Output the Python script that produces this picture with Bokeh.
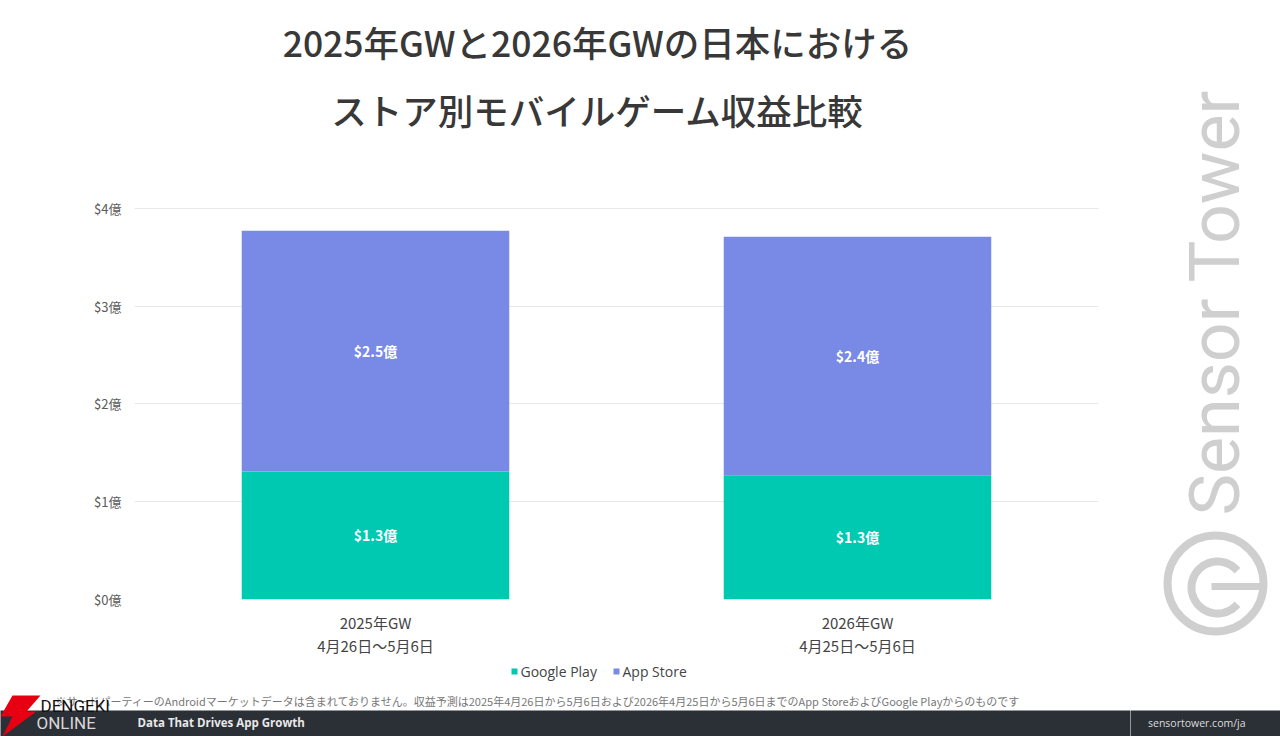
import math
from bokeh.plotting import figure
from bokeh.layouts import row, column
from bokeh.models import (Range1d, LinearAxis, FixedTicker, PrintfTickFormatter,
                          ColumnDataSource)
from bokeh.embed import file_html
from bokeh.resources import INLINE
from bokeh.core.properties import value

# ---------------- data ----------------
title_lines = ["2025年GWと2026年GWの日本における", "ストア別モバイルゲーム収益比較"]
categories = ["2025年GW", "2026年GW"]
date_ranges = ["4月26日～5月6日", "4月25日～5月6日"]
series_names = ["Google Play", "App Store"]
google_play = [1.31, 1.27]   # 億ドル
app_store = [2.46, 2.44]     # 億ドル
y_ticks = [0, 1, 2, 3, 4]
footnote = ("※サードパーティーのAndroidマーケットデータは含まれておりません。収益予測は2025年4月26日から5月6日"
            "および2026年4月25日から5月6日までのApp StoreおよびGoogle Playからのものです")
tagline = "Data That Drives App Growth"
site = "sensortower.com/ja"
watermark = "Sensor Tower"
brand_top = "DENGEKI"
brand_bottom = "ONLINE"

# ---------------- styles ----------------
GP_COLOR = "#00c9b1"
AS_COLOR = "#7889e6"
SERIES_COLORS = [GP_COLOR, AS_COLOR]
JP = "Noto Sans CJK JP"
JP_MED = "Noto Sans CJK JP Medium, Noto Sans CJK JP"
WM = "#cfcfcf"
FOOT_BG = "#2b2f36"

LEFT_W = 1130
SIDE_W = 150
PAGE_H = 736
TITLE_H = 150
MAIN_H = 510
BOTTOM_H = PAGE_H - TITLE_H - MAIN_H
Y_MAX = 4.1
N = len(categories)


def canvas(w, h, x0, y0):
    """A figure whose frame is the whole canvas, in page pixel coordinates."""
    f = figure(width=w, height=h, x_range=Range1d(x0, x0 + w),
               y_range=Range1d(y0 + h, y0), x_axis_type=None, y_axis_type=None,
               min_border=0, toolbar_location=None, output_backend="svg",
               outline_line_color=None, background_fill_color="white",
               border_fill_color="white", frame_align=False)
    return f


# ---------------- title ----------------
tf = canvas(LEFT_W, TITLE_H, 0, 0)
tf.text(x=[597, 597], y=[41, 109], text=title_lines, text_align="center",
        text_baseline="middle", text_font=value(JP_MED), text_font_size="35.5px",
        text_color="#383838")

# ---------------- main chart ----------------
x_pos = [i + 0.5 for i in range(N)]
p = figure(width=LEFT_W, height=MAIN_H, x_range=Range1d(0, N),
           y_range=Range1d(0, Y_MAX), output_backend="svg", toolbar_location=None,
           min_border_left=134, min_border_right=32, min_border_top=48,
           min_border_bottom=61, background_fill_color="white",
           border_fill_color="white", frame_align=False)
p.outline_line_color = None
p.xgrid.grid_line_color = None
p.ygrid.grid_line_color = "#e8e8e8"
p.ygrid.ticker = FixedTicker(ticks=y_ticks)

src = ColumnDataSource(dict(x=x_pos, gp=google_play, ast=app_store))
rs = p.vbar_stack(["gp", "ast"], x="x", width=0.555, color=SERIES_COLORS,
                  source=src, line_width=0)

lab_x = x_pos + x_pos
lab_y = [g / 2 for g in google_play] + [g + a / 2 for g, a in zip(google_play, app_store)]
lab_t = [f"${v:.1f}億" for v in google_play + app_store]
p.text(x=lab_x, y=lab_y, text=lab_t, text_align="center", text_baseline="middle",
       text_color="white", text_font=value(JP), text_font_style="bold",
       text_font_size="14px")

yax = p.yaxis[0]
yax.ticker = FixedTicker(ticks=y_ticks)
yax.formatter = PrintfTickFormatter(format="$%d億")
yax.axis_line_color = None
yax.major_tick_line_color = None
yax.minor_tick_line_color = None
yax.major_tick_out = 0
yax.major_tick_in = 0
yax.major_label_text_font = JP
yax.major_label_text_font_size = "13px"
yax.major_label_text_color = "#5a5a5a"
yax.major_label_standoff = 13


def style_x(ax, standoff):
    ax.ticker = FixedTicker(ticks=x_pos)
    ax.axis_line_color = None
    ax.major_tick_line_color = None
    ax.minor_tick_line_color = None
    ax.major_tick_out = 0
    ax.major_tick_in = 0
    ax.major_label_text_font = JP
    ax.major_label_text_font_size = "15px"
    ax.major_label_text_color = "#444444"
    ax.major_label_standoff = standoff


xax = p.xaxis[0]
style_x(xax, 12)
xax.major_label_overrides = dict(zip(x_pos, categories))

xax2 = LinearAxis()
style_x(xax2, -1)
xax2.major_label_overrides = dict(zip(x_pos, date_ranges))
p.add_layout(xax2, "below")

# ---------------- bottom strip: legend, footnote, footer ----------------
bf = canvas(LEFT_W, BOTTOM_H, 0, TITLE_H + MAIN_H)
leg_x = [511, 613]
bf.scatter(x=[x + 3 for x in leg_x], y=[671, 671], marker="square", size=6,
           color=SERIES_COLORS, line_width=0)
bf.text(x=[x + 9 for x in leg_x], y=[671, 671], text=series_names, text_align="left",
        text_baseline="middle", text_font=value("Open Sans"), text_font_size="14px",
        text_color="#444444")
bf.text(x=[55], y=[700], text=[footnote], text_align="left", text_baseline="middle",
        text_font=value(JP), text_font_size="11px", text_color="#777777")
bf.quad(left=[-5], right=[LEFT_W + 5], top=[710], bottom=[PAGE_H + 5], color=FOOT_BG,
        line_width=0)
bf.text(x=[137], y=[722], text=[tagline], text_align="left", text_baseline="middle",
        text_font=value("Open Sans"), text_font_size="11.5px", text_font_style="bold",
        text_color="#e8e8e8")
bolt_x = [12, 40, 26, 36, 2, 12, 0]
bolt_y = [695, 695, 711, 711, 736, 716, 716]
bf.patch(x=bolt_x, y=bolt_y, color="#e60012", line_width=0)
bf.text(x=[40], y=[705], text=[brand_top], text_align="left", text_baseline="middle",
        text_font=value("Roboto"), text_font_size="17px", text_color="#111111")
bf.text(x=[36], y=[722], text=[brand_bottom], text_align="left", text_baseline="middle",
        text_font=value("Roboto"), text_font_size="17px", text_color="#d8d8d8")

# ---------------- right strip: watermark ----------------
sf = canvas(SIDE_W, PAGE_H, LEFT_W, 0)
sf.text(x=[1214], y=[302], text=[watermark], angle=math.pi / 2, text_align="center",
        text_baseline="middle", text_font=value("Roboto"), text_font_size="70px",
        text_color=WM)
sf.circle(x=[1215], y=[583], radius=48, fill_alpha=0, line_color=WM, line_width=8)
c_ang = [math.radians(a) for a in range(40, 321, 5)]
sf.line(x=[1217 + 26 * math.cos(a) for a in c_ang],
        y=[587 - 26 * math.sin(a) for a in c_ang], line_color=WM, line_width=8)
sf.line(x=[1211, 1263], y=[586, 586], line_color=WM, line_width=7)
sf.quad(left=[LEFT_W - 5], right=[LEFT_W + SIDE_W + 5], top=[710], bottom=[PAGE_H + 5],
        color=FOOT_BG, line_width=0)
sf.text(x=[1245], y=[722], text=[site], text_align="right", text_baseline="middle",
        text_font=value("Open Sans"), text_font_size="10.5px", text_color="#dddddd")

layout = row(column(tf, p, bf), sf)
open("out.html", "w").write(file_html(layout, INLINE))
